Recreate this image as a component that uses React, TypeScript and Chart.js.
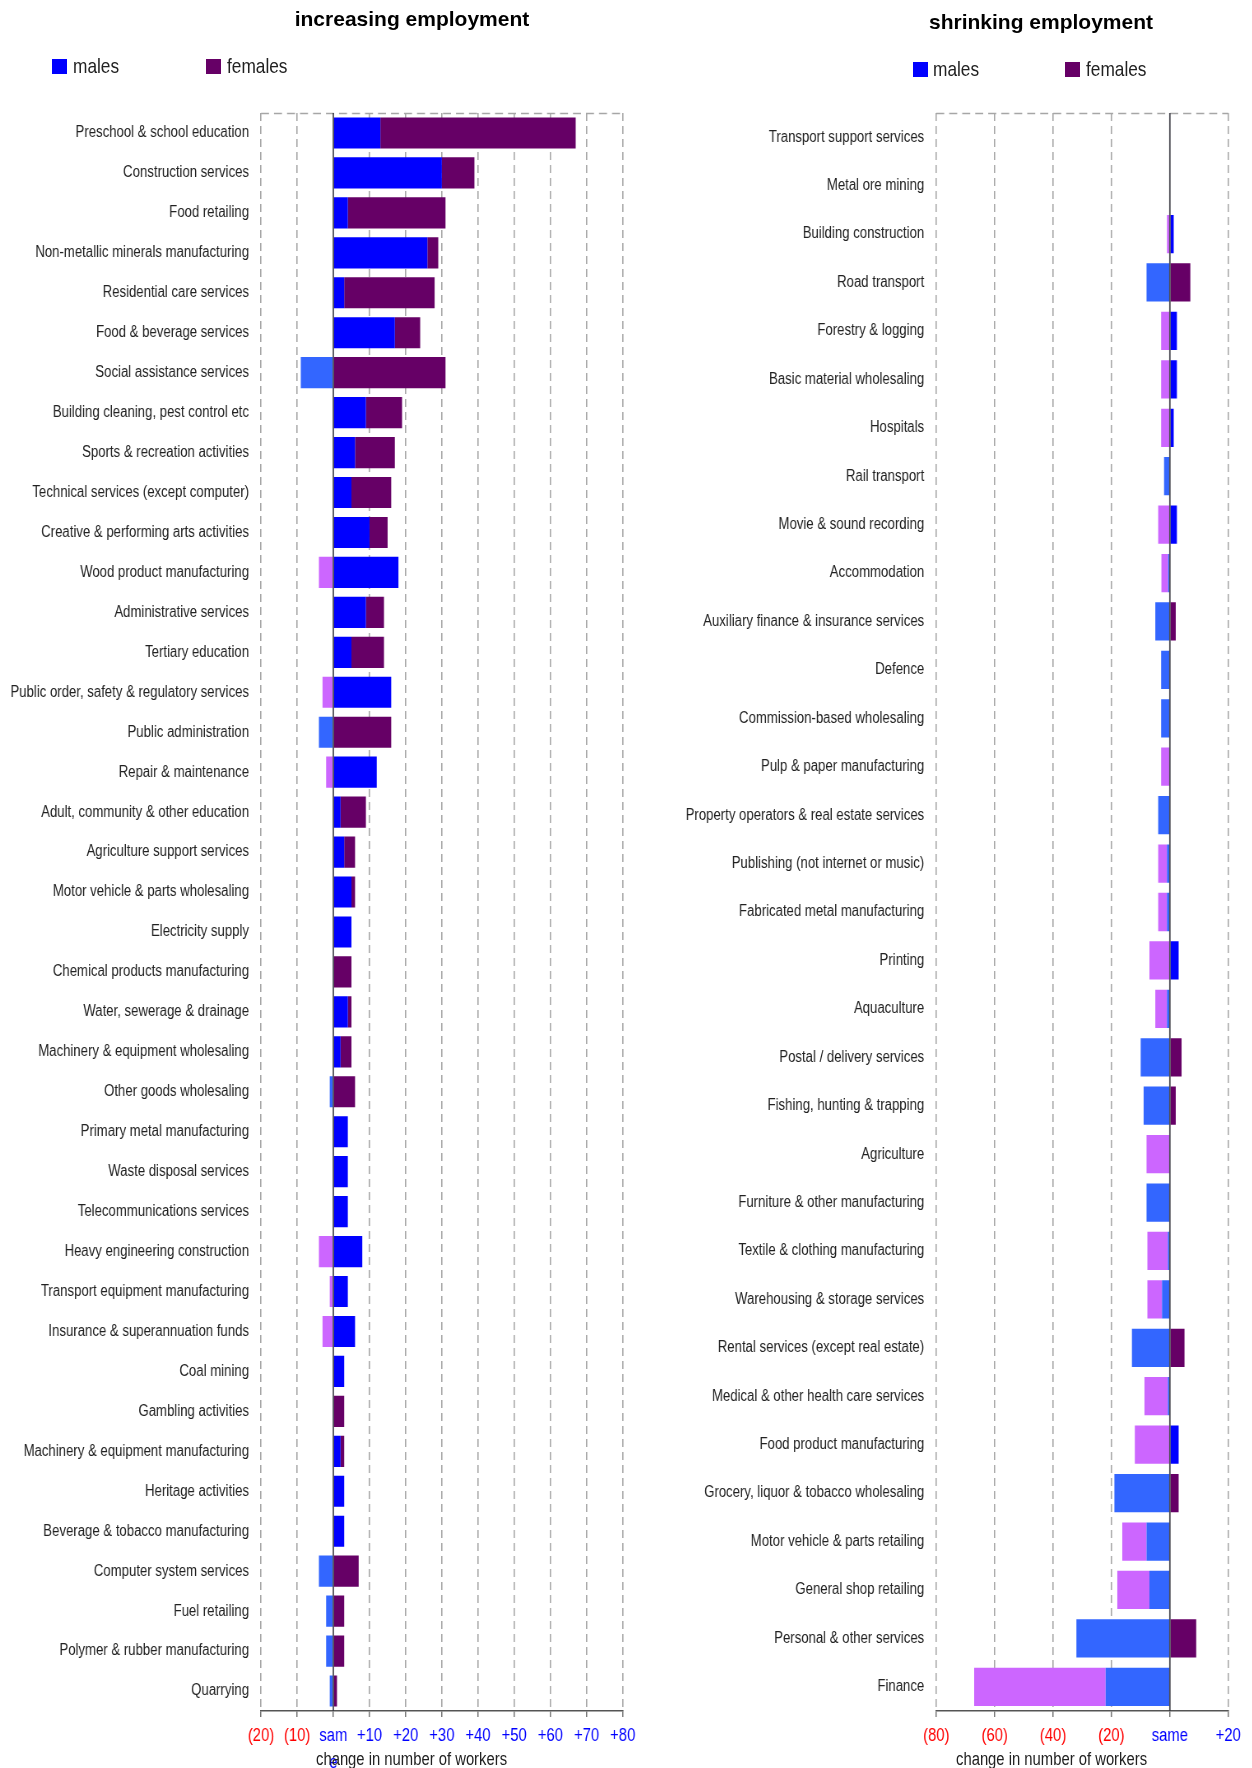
import React, { useEffect, useRef } from 'react';
import { Chart, registerables } from 'chart.js';

Chart.register(...registerables);

// ---------- data ----------
const incCategories = [
  'Preschool & school education',
  'Construction services',
  'Food retailing',
  'Non-metallic minerals manufacturing',
  'Residential care services',
  'Food & beverage services',
  'Social assistance services',
  'Building cleaning, pest control etc',
  'Sports & recreation activities',
  'Technical services (except computer)',
  'Creative & performing arts activities',
  'Wood product manufacturing',
  'Administrative services',
  'Tertiary education',
  'Public order, safety & regulatory services',
  'Public administration',
  'Repair & maintenance',
  'Adult, community & other education',
  'Agriculture support services',
  'Motor vehicle & parts wholesaling',
  'Electricity supply',
  'Chemical products manufacturing',
  'Water, sewerage & drainage',
  'Machinery & equipment wholesaling',
  'Other goods wholesaling',
  'Primary metal manufacturing',
  'Waste disposal services',
  'Telecommunications services',
  'Heavy engineering construction',
  'Transport equipment manufacturing',
  'Insurance & superannuation funds',
  'Coal mining',
  'Gambling activities',
  'Machinery & equipment manufacturing',
  'Heritage activities',
  'Beverage & tobacco manufacturing',
  'Computer system services',
  'Fuel retailing',
  'Polymer & rubber manufacturing',
  'Quarrying',
];
const incMales = [
  13, 30, 4, 26, 3, 17, -9, 9, 6, 5,
  10, 18, 9, 5, 16, -4, 12, 2, 3, 5,
  5, 0, 4, 2, -1, 4, 4, 4, 8, 4,
  6, 3, 0, 2, 3, 3, -4, -2, -2, -1,
];
const incFemales = [
  54, 9, 27, 3, 25, 7, 31, 10, 11, 11,
  5, -4, 5, 9, -3, 16, -2, 7, 3, 1,
  0, 5, 1, 3, 6, 0, 0, 0, -4, -1,
  -3, 0, 3, 1, 0, 0, 7, 3, 3, 1,
];
const incTicks = [-20, -10, 0, 10, 20, 30, 40, 50, 60, 70, 80];

const shrCategories = [
  'Transport support services',
  'Metal ore mining',
  'Building construction',
  'Road transport',
  'Forestry & logging',
  'Basic material wholesaling',
  'Hospitals',
  'Rail transport',
  'Movie & sound recording',
  'Accommodation',
  'Auxiliary finance & insurance services',
  'Defence',
  'Commission-based wholesaling',
  'Pulp & paper manufacturing',
  'Property operators & real estate services',
  'Publishing (not internet or music)',
  'Fabricated metal manufacturing',
  'Printing',
  'Aquaculture',
  'Postal / delivery services',
  'Fishing, hunting & trapping',
  'Agriculture',
  'Furniture & other manufacturing',
  'Textile & clothing manufacturing',
  'Warehousing & storage services',
  'Rental services (except real estate)',
  'Medical & other health care services',
  'Food product manufacturing',
  'Grocery, liquor & tobacco wholesaling',
  'Motor vehicle & parts retailing',
  'General shop retailing',
  'Personal & other services',
  'Finance',
];
const shrMales = [
  0, 0, 1.3, -8, 2.4, 2.4, 1.3, -2, 2.4, -0.6,
  -5, -3, -3, 0, -4, -1, -1, 3, -1, -10,
  -9, 0, -8, -0.7, -2.7, -13, -0.7, 3, -19, -8,
  -7, -32, -22,
];
const shrFemales = [
  0, 0, -1, 7, -3, -3, -3, 0, -4, -2.3,
  2, 0, 0, -3, 0, -3, -3, -7, -4, 4,
  2, -8, 0, -7, -5, 5, -8, -12, 3, -8.3,
  -11, 9, -45,
];
const shrTicks = [-80, -60, -40, -20, 0, 20];

// ---------- styling ----------
const SANS = "'Liberation Sans', Arial, Helvetica, sans-serif";
const SX = 0.823; // horizontal condensing of the text/plot drawing
const MALE_POS = '#0000ff';
const MALE_NEG = '#3366ff';
const FEMALE_POS = '#660066';
const FEMALE_NEG = '#cc66ff';
const PAGE_H = 1768;
const PLOT_TOP = 113;
const PLOT_BOTTOM = 1711;
const GRID_COLOR = '#a6a6a6';
const DASH = [8, 5];

type PanelProps = {
  categories: string[];
  males: number[];
  females: number[];
  tickValues: number[];
  zeroLabel: string | string[];
  left: number; // page x of the panel
  width: number; // page width of the panel
  plotLeft: number; // panel x of plot left
  plotRight: number; // panel x of plot right
  barPct: number;
};

function Panel(p: PanelProps) {
  const ref = useRef<HTMLCanvasElement | null>(null);
  const cw = Math.round(p.width / SX);
  const cPlotLeft = p.plotLeft / SX;
  const cPlotRight = p.plotRight / SX;
  useEffect(() => {
    const canvas = ref.current;
    if (!canvas) return;
    const framePlugin = {
      id: 'frameAndZero',
      beforeDatasetsDraw(chart: any) {
        const { ctx, chartArea } = chart;
        ctx.save();
        ctx.strokeStyle = GRID_COLOR;
        ctx.lineWidth = 1.3;
        ctx.setLineDash([8 / SX, 5 / SX]);
        ctx.beginPath();
        ctx.moveTo(chartArea.left, chartArea.top + 0.5);
        ctx.lineTo(chartArea.right, chartArea.top + 0.5);
        ctx.stroke();
        ctx.restore();
      },
      afterDatasetsDraw(chart: any) {
        const { ctx, chartArea } = chart;
        const x = chart.scales.x.getPixelForValue(0);
        ctx.save();
        ctx.strokeStyle = 'rgba(50,50,60,0.85)';
        ctx.lineWidth = 1.5 / SX;
        ctx.setLineDash([]);
        ctx.beginPath();
        ctx.moveTo(x, chartArea.top);
        ctx.lineTo(x, chartArea.bottom);
        ctx.stroke();
        ctx.restore();
      },
    };
    const chart = new Chart(canvas, {
      type: 'bar',
      data: {
        labels: p.categories,
        datasets: [
          {
            label: 'males',
            data: p.males,
            backgroundColor: p.males.map((v) => (v < 0 ? MALE_NEG : MALE_POS)),
            borderWidth: 0,
            barPercentage: p.barPct,
            categoryPercentage: 1,
          },
          {
            label: 'females',
            data: p.females,
            backgroundColor: p.females.map((v) => (v < 0 ? FEMALE_NEG : FEMALE_POS)),
            borderWidth: 0,
            barPercentage: p.barPct,
            categoryPercentage: 1,
          },
        ],
      },
      options: {
        indexAxis: 'y',
        animation: false,
        responsive: false,
        maintainAspectRatio: false,
        devicePixelRatio: 1,
        layout: { padding: { left: 0, top: PLOT_TOP, right: cw - cPlotRight, bottom: 0 } },
        plugins: {
          legend: { display: false },
          title: { display: false },
          tooltip: { enabled: false },
        },
        scales: {
          x: {
            type: 'linear',
            stacked: true,
            min: p.tickValues[0],
            max: p.tickValues[p.tickValues.length - 1],
            afterBuildTicks: (s: any) => {
              s.ticks = p.tickValues.map((v) => ({ value: v }));
            },
            afterFit: (s: any) => {
              s.height = PAGE_H - PLOT_BOTTOM;
              s.paddingLeft = 0;
              s.paddingRight = 0;
            },
            grid: {
              display: true,
              drawOnChartArea: true,
              drawTicks: true,
              tickLength: 6,
              color: (c: any) => (c.tick && c.tick.value === 0 ? 'rgba(0,0,0,0)' : GRID_COLOR),
              lineWidth: 1.3 / SX,
              tickColor: '#555555',
              tickWidth: 1 / SX,
              tickBorderDash: [],
            },
            border: { display: true, color: '#555555', width: 1.5, dash: DASH },
            ticks: {
              autoSkip: false,
              maxRotation: 0,
              minRotation: 0,
              padding: 5.5,
              font: { family: SANS, size: 18, lineHeight: 1.5 },
              color: (c: any) => (c.tick && c.tick.value < 0 ? '#ff0000' : '#0000ff'),
              callback: (value: any) => {
                const v = Number(value);
                if (v < 0) return '(' + -v + ')';
                if (v === 0) return p.zeroLabel;
                return '+' + v;
              },
            },
          },
          y: {
            type: 'category',
            stacked: true,
            afterFit: (s: any) => {
              s.width = cPlotLeft;
              s.paddingTop = 0;
              s.paddingBottom = 0;
            },
            grid: { display: false, drawTicks: false, tickLength: 0 },
            border: { display: false },
            ticks: {
              autoSkip: false,
              padding: 12 / SX,
              color: '#222222',
              font: { family: SANS, size: 16 },
            },
          },
        },
      } as any,
      plugins: [framePlugin],
    });
    return () => chart.destroy();
  }, []);
  return (
    <canvas
      ref={ref}
      width={cw}
      height={PAGE_H}
      style={{
        position: 'absolute',
        left: p.left,
        top: 0,
        width: cw,
        height: PAGE_H,
        transform: `scaleX(${SX})`,
        transformOrigin: '0 0',
      }}
    />
  );
}

function Text(props: {
  x: number;
  top: number;
  text: string;
  size: number;
  lh: number;
  bold?: boolean;
  condensed?: boolean;
  color?: string;
  center?: boolean;
}) {
  const style: React.CSSProperties = {
    position: 'absolute',
    top: props.top,
    fontFamily: SANS,
    fontSize: props.size,
    lineHeight: props.lh + 'px',
    fontWeight: props.bold ? 'bold' : 'normal',
    color: props.color || '#222222',
    whiteSpace: 'nowrap',
  };
  if (props.center) {
    style.left = props.x - 300;
    style.width = 600;
    style.textAlign = 'center';
  } else {
    style.left = props.x;
  }
  if (props.condensed) {
    style.transform = `scaleX(${SX})`;
    style.transformOrigin = '0 0';
  }
  return <div style={style}>{props.text}</div>;
}

function Swatch(props: { x: number; y: number; color: string }) {
  return (
    <div
      style={{
        position: 'absolute',
        left: props.x,
        top: props.y,
        width: 15,
        height: 15,
        background: props.color,
      }}
    />
  );
}

export default function App() {
  return (
    <div
      style={{
        position: 'absolute',
        left: 0,
        top: 0,
        width: 1252,
        height: PAGE_H,
        overflow: 'hidden',
        background: '#ffffff',
      }}
    >
      <Panel
        categories={incCategories}
        males={incMales}
        females={incFemales}
        tickValues={incTicks}
        zeroLabel={['sam', 'e']}
        left={0}
        width={640}
        plotLeft={261}
        plotRight={622.7}
        barPct={0.78}
      />
      <Panel
        categories={shrCategories}
        males={shrMales}
        females={shrFemales}
        tickValues={shrTicks}
        zeroLabel={'same'}
        left={640}
        width={612}
        plotLeft={296.2}
        plotRight={588.3}
        barPct={0.79}
      />

      <Text x={412} top={6.7} text="increasing employment" size={21} lh={24} bold color="#000000" center />
      <Text x={1041} top={9.7} text="shrinking employment" size={21} lh={24} bold color="#000000" center />

      <Swatch x={52} y={59} color={MALE_POS} />
      <Text x={72.5} top={54.4} text="males" size={21} lh={24} condensed />
      <Swatch x={206} y={59} color={FEMALE_POS} />
      <Text x={226.5} top={54.4} text="females" size={21} lh={24} condensed />

      <Swatch x={912.5} y={61.5} color={MALE_POS} />
      <Text x={932.5} top={56.5} text="males" size={21} lh={24} condensed />
      <Swatch x={1065} y={61.5} color={FEMALE_POS} />
      <Text x={1085.5} top={56.5} text="females" size={21} lh={24} condensed />

      <Text x={316} top={1748.8} text="change in number of workers" size={18} lh={20} condensed />
      <Text x={955.5} top={1748.8} text="change in number of workers" size={18} lh={20} condensed />
    </div>
  );
}
